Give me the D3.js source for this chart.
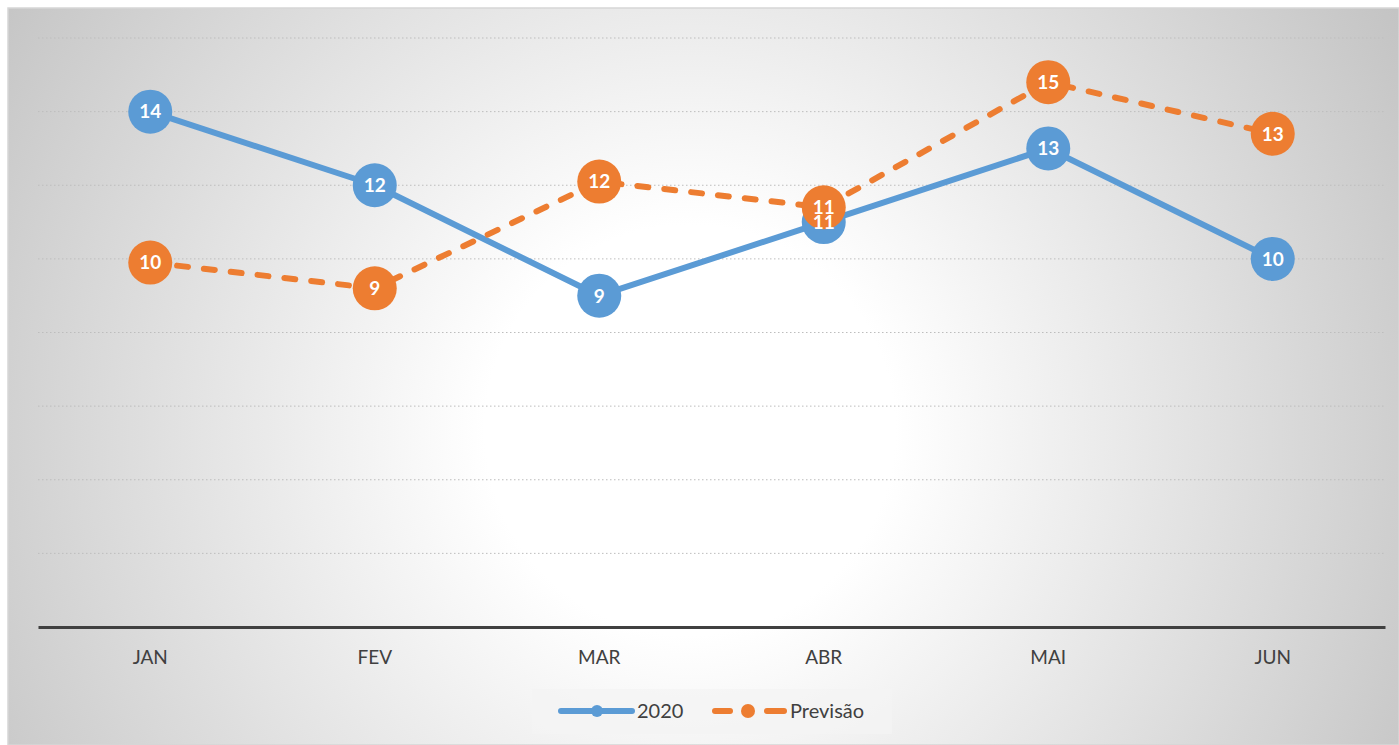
<!DOCTYPE html>
<html lang="pt">
<head>
<meta charset="utf-8">
<title>2020 x Previsão</title>
<script src="https://d3js.org/d3.v7.min.js"></script>
<style>
  body { margin: 0; background: #fff; }
  svg { display: block; font-family: Lato, "Open Sans", sans-serif; }
</style>
</head>
<body>
<div id="chart"></div>
<script>
// data
var months = ["JAN", "FEV", "MAR", "ABR", "MAI", "JUN"];
var values2020 = [14, 12, 9, 11, 13, 10];
var valuesPrev = [9.9, 9.2, 12.1, 11.4, 14.8, 13.4];
var seriesNames = ["2020", "Previsão"];
var gridTicks = [2, 4, 6, 8, 10, 12, 14, 16];

var width = 1399, height = 745;
var plotLeft = 38, plotRight = 1385, plotTop = 38, axisY = 627;

var blue = "#5b9bd5", orange = "#ed7d31";

var svg = d3.select("#chart").append("svg")
  .attr("width", width)
  .attr("height", height);

var defs = svg.append("defs");
var grad = defs.append("radialGradient")
  .attr("id", "bg")
  .attr("gradientUnits", "userSpaceOnUse")
  .attr("cx", 690).attr("cy", 430).attr("r", 820);
grad.append("stop").attr("offset", "0%").attr("stop-color", "#ffffff");
grad.append("stop").attr("offset", "25%").attr("stop-color", "#ffffff");
grad.append("stop").attr("offset", "100%").attr("stop-color", "#c4c4c4");

// chart area
svg.append("rect")
  .attr("x", 8).attr("y", 8)
  .attr("width", width - 8).attr("height", height - 8)
  .attr("fill", "url(#bg)")
  .attr("stroke", "#d6d6d6")
  .attr("stroke-width", 1.5);

var x = d3.scaleBand().domain(months).range([plotLeft, plotRight]);
var y = d3.scaleLinear().domain([0, 16]).range([axisY, plotTop]);

// grid lines
svg.append("g")
  .selectAll("line")
  .data(gridTicks)
  .enter()
  .append("line")
  .attr("x1", plotLeft).attr("x2", plotRight)
  .attr("y1", function(d) { return y(d); })
  .attr("y2", function(d) { return y(d); })
  .attr("stroke", "#bdbdbd")
  .attr("stroke-width", 1)
  .attr("stroke-dasharray", "1.5,2.5");

// x axis
var xAxis = svg.append("g")
  .attr("transform", "translate(0," + axisY + ")")
  .call(d3.axisBottom(x).tickSize(0).tickPadding(24));
xAxis.select(".domain")
  .attr("stroke", "#404040")
  .attr("stroke-width", 3);
xAxis.selectAll("text")
  .attr("fill", "#404040")
  .style("font-size", "19px")
  .style("font-family", "Lato, 'Open Sans', sans-serif");

var cx = function(d, i) { return x(months[i]) + x.bandwidth() / 2; };

var line = d3.line()
  .x(cx)
  .y(function(d) { return y(d); });

var fmt = d3.format(".0f");

var series = [
  { vals: values2020, color: blue, dashed: false },
  { vals: valuesPrev, color: orange, dashed: true }
];

// lines + markers first, labels on top of everything
series.forEach(function(s) {
  var g = svg.append("g");
  g.append("path")
    .datum(s.vals)
    .attr("d", line)
    .attr("fill", "none")
    .attr("stroke", s.color)
    .attr("stroke-width", 6)
    .attr("stroke-linecap", s.dashed ? "round" : "butt")
    .attr("stroke-linejoin", "round")
    .attr("stroke-dasharray", s.dashed ? "11,16" : null);
  g.selectAll("circle")
    .data(s.vals)
    .enter()
    .append("circle")
    .attr("cx", cx)
    .attr("cy", function(d) { return y(d); })
    .attr("r", 22)
    .attr("fill", s.color);
});

series.forEach(function(s) {
  svg.append("g")
    .selectAll("text")
    .data(s.vals)
    .enter()
    .append("text")
    .attr("x", cx)
    .attr("y", function(d) { return y(d); })
    .attr("text-anchor", "middle")
    .attr("dy", "0.36em")
    .attr("fill", "#fff")
    .style("font-size", "19px")
    .style("font-weight", "bold")
    .text(function(d) { return fmt(d); });
});

// legend
var legend = svg.append("g");
legend.append("rect")
  .attr("x", 532).attr("y", 689)
  .attr("width", 360).attr("height", 45)
  .attr("fill", "#f3f3f3")
  .attr("opacity", 0.7);

var ly = 711;
// 2020: solid line with dot
legend.append("line")
  .attr("x1", 561).attr("x2", 632)
  .attr("y1", ly).attr("y2", ly)
  .attr("stroke", blue).attr("stroke-width", 6)
  .attr("stroke-linecap", "round");
legend.append("circle")
  .attr("cx", 597).attr("cy", ly).attr("r", 6)
  .attr("fill", blue);
legend.append("text")
  .attr("x", 637).attr("y", ly).attr("dy", "0.36em")
  .attr("fill", "#404040")
  .style("font-size", "20px")
  .text(seriesNames[0]);

// Previsão: dash, dot, dash
[[715, 730], [767, 784]].forEach(function(seg) {
  legend.append("line")
    .attr("x1", seg[0]).attr("x2", seg[1])
    .attr("y1", ly).attr("y2", ly)
    .attr("stroke", orange).attr("stroke-width", 6)
    .attr("stroke-linecap", "round");
});
legend.append("circle")
  .attr("cx", 748).attr("cy", ly).attr("r", 7)
  .attr("fill", orange);
legend.append("text")
  .attr("x", 790).attr("y", ly).attr("dy", "0.36em")
  .attr("fill", "#404040")
  .style("font-size", "20px")
  .text(seriesNames[1]);
</script>
</body>
</html>
